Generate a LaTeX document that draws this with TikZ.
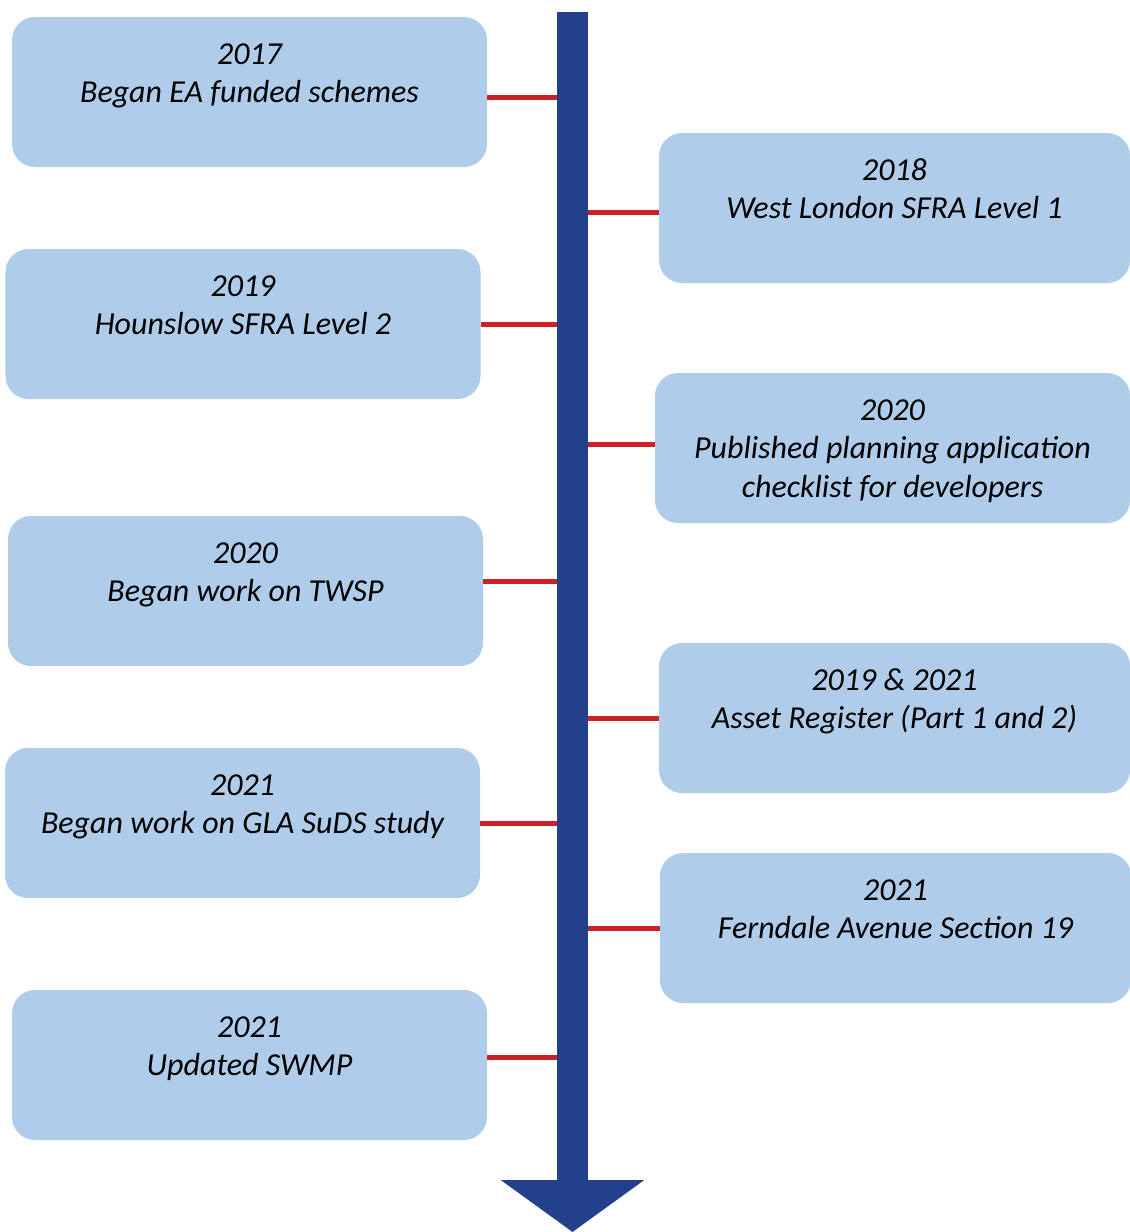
\documentclass[tikz,border=0pt]{standalone}
\usepackage{fontspec}
\setmainfont{Carlito}
\usetikzlibrary{arrows.meta}
\definecolor{boxblue}{RGB}{175,205,234}
\definecolor{barblue}{RGB}{35,65,139}
\definecolor{tickred}{RGB}{204,32,39}

\begin{document}
\begin{tikzpicture}[
  event/.style={fill=boxblue,rounded corners=0.46cm,minimum width=9.5cm,minimum height=3cm,inner sep=0},
  evtext/.style={anchor=base,align=center,inner sep=0,font=\fontsize{18.2}{22}\selectfont\itshape},
  tick/.style={draw=tickred,line width=0.1cm}
]
\useasboundingbox (0,0) rectangle (22.6,-24.64);
\coordinate (top) at (11.45,-0.24);
\coordinate (bottom) at (11.45,-24.64);

\draw (4.99,-1.84) node[event] (Y2017) {};
	\draw (4.99,-2.056) node[evtext] (Y2017Text) {2017\\Began EA funded schemes};
\draw (17.89,-4.16) node[event,minimum width=9.42cm] (Y2018) {};
	\draw (17.89,-4.376) node[evtext] (Y2018Text) {2018\\West London SFRA Level 1};
\draw (4.86,-6.48) node[event] (Y2019) {};
	\draw (4.86,-6.696) node[evtext] (Y2019Text) {2019\\Hounslow SFRA Level 2};
\draw (17.85,-8.96) node[event,minimum width=9.5cm] (Y2020a) {};
	\draw (17.85,-9.952) node[evtext] (Y2020aText) {2020\\Published planning application\\checklist for developers};
\draw (4.91,-11.82) node[event] (Y2020b) {};
	\draw (4.91,-12.036) node[evtext] (Y2020bText) {2020\\Began work on TWSP};
\draw (17.89,-14.36) node[event,minimum width=9.42cm] (Y2021a) {};
	\draw (17.89,-14.576) node[evtext] (Y2021aText) {2019 \& 2021\\Asset Register (Part 1 and 2)};
\draw (4.85,-16.46) node[event] (Y2021b) {};
	\draw (4.85,-16.676) node[evtext] (Y2021bText) {2021\\Began work on GLA SuDS study};
\draw (17.91,-18.56) node[event,minimum width=9.42cm] (Y2021c) {};
	\draw (17.91,-18.776) node[evtext] (Y2021cText) {2021\\Ferndale Avenue Section 19};
\draw (4.99,-21.30) node[event] (Y2021d) {};
	\draw (4.99,-21.516) node[evtext] (Y2021dText) {2021\\Updated SWMP};

\draw[tick] ([yshift=-0.1cm]Y2017.east) -- ([yshift=-0.1cm]Y2017.east -| top);
\draw[tick] ([yshift=-0.08cm]Y2018.west) -- ([yshift=-0.08cm]Y2018.west -| top);
\draw[tick] (Y2019.east) -- (Y2019.east -| top);
\draw[tick] ([yshift=0.08cm]Y2020a.west) -- ([yshift=0.08cm]Y2020a.west -| top);
\draw[tick] ([yshift=0.2cm]Y2020b.east) -- ([yshift=0.2cm]Y2020b.east -| top);
\draw[tick] (Y2021a.west) -- (Y2021a.west -| top);
\draw[tick] (Y2021b.east) -- (Y2021b.east -| top);
\draw[tick] (Y2021c.west) -- (Y2021c.west -| top);
\draw[tick] ([yshift=0.16cm]Y2021d.east) -- ([yshift=0.16cm]Y2021d.east -| top);

\draw[barblue,line width=0.62cm,-{Triangle[width=2.82cm,length=1.04cm]}] (top) -- (bottom);
\end{tikzpicture}
\end{document}
